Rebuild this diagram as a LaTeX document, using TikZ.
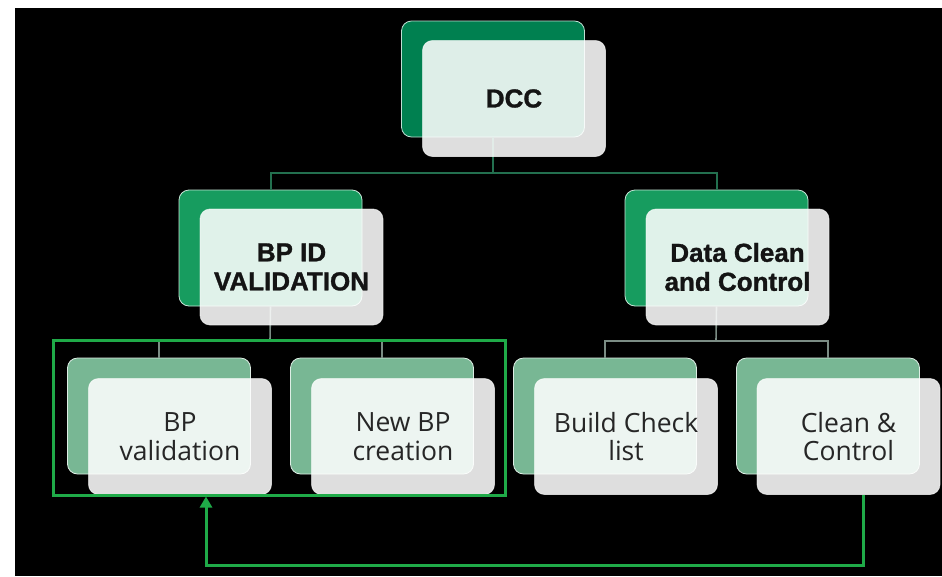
\documentclass[tikz,border=0pt]{standalone}
\usepackage{fontspec}
\setmainfont{Liberation Sans}
\newfontfamily\heavyfont{Liberation Sans}[BoldFeatures={FakeBold=1.2}]
\newfontfamily\bodyfont{Open Sans}
\usetikzlibrary{arrows.meta}
\definecolor{topgreen}{HTML}{008050}
\definecolor{midgreen}{HTML}{179C5F}
\definecolor{lowgreen}{HTML}{78B794}
\definecolor{framegreen}{HTML}{1FAA48}
\definecolor{treeline}{HTML}{23704F}
\definecolor{grayline}{HTML}{7B8C84}
\tikzset{
  backbox/.style={rounded corners=10pt, minimum width=183pt, minimum height=116pt,
    draw=white!75!#1, line width=0.8pt, fill=#1, inner sep=0pt},
  frontbox/.style={rounded corners=10pt, minimum width=183pt, minimum height=116pt,
    draw=white, draw opacity=0.6, line width=0.8pt, fill=white, fill opacity=0.87,
    text opacity=1, inner sep=0pt, align=center, text=black!92},
  boldlabel/.style={font=\heavyfont\fontsize{26}{29}\selectfont\bfseries},
  plainlabel/.style={font=\bodyfont\fontsize{26.5}{28.5}\selectfont, text=black!85},
  treeconn/.style={draw=treeline, line width=2pt},
  lowconn/.style={draw=grayline, line width=1.6pt},
  loopline/.style={draw=framegreen, line width=3pt},
}
\begin{document}
\begin{tikzpicture}[x=1pt,y=-1pt]
\useasboundingbox (0,0) rectangle (942,576);
\fill[white] (0,0) rectangle (942,576);
\fill[black] (15,8) rectangle (942,576);

% coordinates of buses
\coordinate (bus1) at (493,173);
\coordinate (bus2) at (270,341);
\coordinate (bus3) at (716,341);

% back boxes
\node[backbox=topgreen] (dccg) at (493,79) {};
\node[backbox=midgreen] (bpidg) at (270.5,248) {};
\node[backbox=midgreen] (datag) at (716.5,248) {};
\node[backbox=lowgreen] (bpvg) at (159,416) {};
\node[backbox=lowgreen] (newg) at (382,416) {};
\node[backbox=lowgreen] (buildg) at (605,416) {};
\node[backbox=lowgreen] (cleang) at (828,416) {};

% connectors (drawn behind the translucent front boxes)
\draw[treeconn] (dccg.south) -- (bus1);
\draw[treeconn] (bus1) -| (bpidg.north);
\draw[treeconn] (bus1) -| (datag.north);
\draw[lowconn] (bpidg.south) -- (bus2);
\draw[lowconn] (bus2) -| (bpvg.north);
\draw[lowconn] (bus2) -| (newg.north);
\draw[lowconn] (datag.south) -- (bus3);
\draw[lowconn] (bus3) -| (buildg.north);
\draw[lowconn] (bus3) -| (cleang.north);

% front boxes
\node[frontbox, boldlabel] (dcc) at (514,98.5) {DCC};
\node[frontbox, boldlabel] (bpid) at (291.5,267) {BP ID\\VALIDATION};
\node[frontbox, boldlabel] (data) at (737.5,267) {Data Clean\\and Control};
\node[frontbox, plainlabel] (bpv) at (180,436.5) {BP\\validation};
\node[frontbox, plainlabel] (newbp) at (403,436.5) {New BP\\creation};
\node[frontbox, plainlabel] (build) at (626,436.5) {Build Check\\list};
\node[frontbox, plainlabel] (clean) at (848.5,436.5) {Clean \&\\Control};

% green frame round the BP ID children
\node[draw=framegreen, line width=3pt, minimum width=452pt, minimum height=155pt,
      inner sep=0pt, outer sep=0pt] (frame) at (279,417.5) {};

% feedback arrow
\coordinate (loopstart) at ([xshift=14.5pt]clean.south);
\coordinate (loopend) at ([xshift=-73pt, yshift=-1.5pt]frame.south);
\draw[loopline, -{Triangle[width=12pt,length=11pt]}]
  (loopstart) -- ++(0,71) -| (loopend);
\end{tikzpicture}
\end{document}
